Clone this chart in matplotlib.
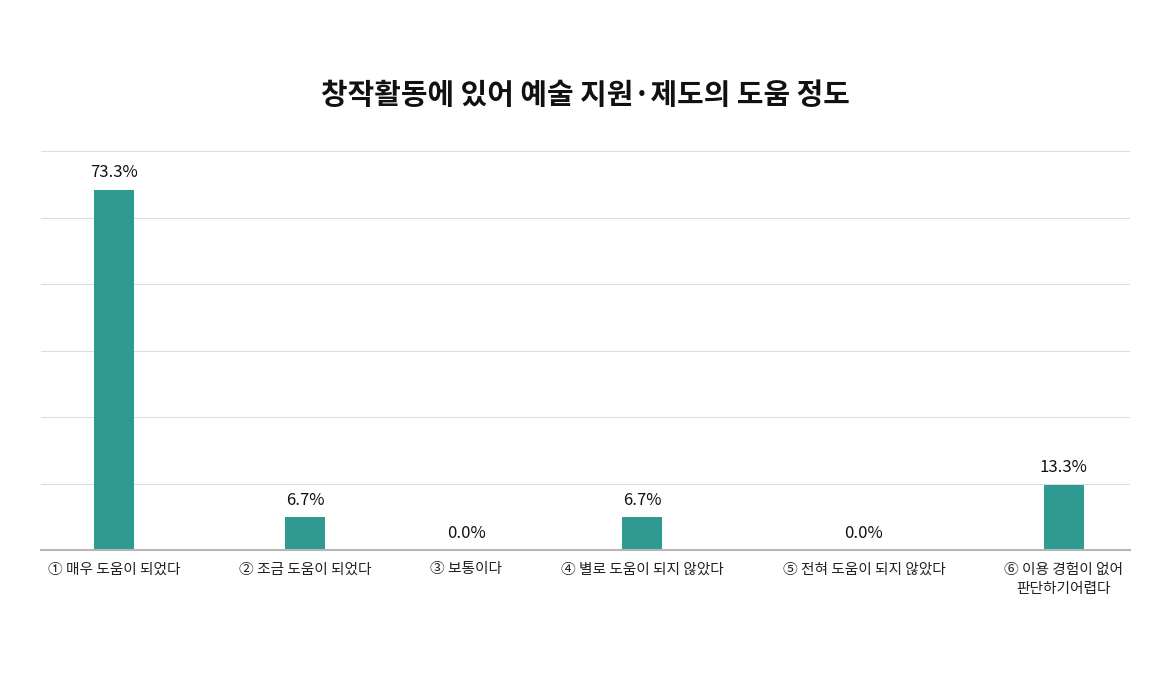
import numpy as np
import matplotlib
matplotlib.use('Agg')
import matplotlib.pyplot as plt

plt.rcParams['font.family'] = ['Noto Sans CJK KR', 'DejaVu Sans']

title = '창작활동에 있어 예술 지원·제도의 도움 정도'
categories = [
    '① 매우 도움이 되었다',
    '② 조금 도움이 되었다',
    '③ 보통이다',
    '④ 별로 도움이 되지 않았다',
    '⑤ 전혀 도움이 되지 않았다',
    '⑥ 이용 경험이 없어\n판단하기어렵다',
]
values = [73.3, 6.7, 0.0, 6.7, 0.0, 13.3]

bar_color = '#2e9a90'
tick_size = 10.6

fig = plt.figure(figsize=(11.7, 6.8), dpi=100)
ax = fig.add_axes([41 / 1170, 130 / 680, 1089 / 1170, 399 / 680])

# space the categories by the width of their labels, like the original layout
renderer = fig.canvas.get_renderer()
widths = []
for c in categories:
    t = fig.text(0, 0, c, fontsize=tick_size, multialignment='center')
    widths.append(t.get_window_extent(renderer).width)
    t.remove()
ax_w = ax.get_window_extent(renderer).width
pad = 7
gap = (ax_w - 2 * pad - sum(widths)) / (len(categories) - 1)
centers = []
x = pad
for w in widths:
    centers.append((x + w / 2) / ax_w)
    x += w + gap

ax.set_xlim(0, 1)
ax.set_ylim(0, 81.2)
ax.bar(centers, values, width=40 / ax_w, color=bar_color, zorder=3)

for c, v in zip(centers, values):
    ax.annotate(f'{v:.1f}%', (c, v), xytext=(0, 6), textcoords='offset points',
                ha='center', va='bottom', fontsize=12, color='#111111')

ax.set_yticks(np.linspace(0, 81.2, 7))
ax.set_yticklabels([])
ax.grid(axis='y', color='#dddddd', linewidth=0.8, zorder=0)
ax.tick_params(axis='y', length=0)
ax.set_xticks(centers, categories, fontsize=tick_size, color='#222222',
              linespacing=1.5)
ax.tick_params(axis='x', length=0, pad=9)

for s in ['top', 'right', 'left']:
    ax.spines[s].set_visible(False)
ax.spines['bottom'].set_color('#b5b5b5')
ax.spines['bottom'].set_linewidth(1.5)
ax.spines['bottom'].set_zorder(4)

fig.text(0.5, 1 - 95 / 680, title, ha='center', va='center', fontsize=20.8,
         weight='bold', color='#111111')

fig.savefig('out.png', dpi=100)
